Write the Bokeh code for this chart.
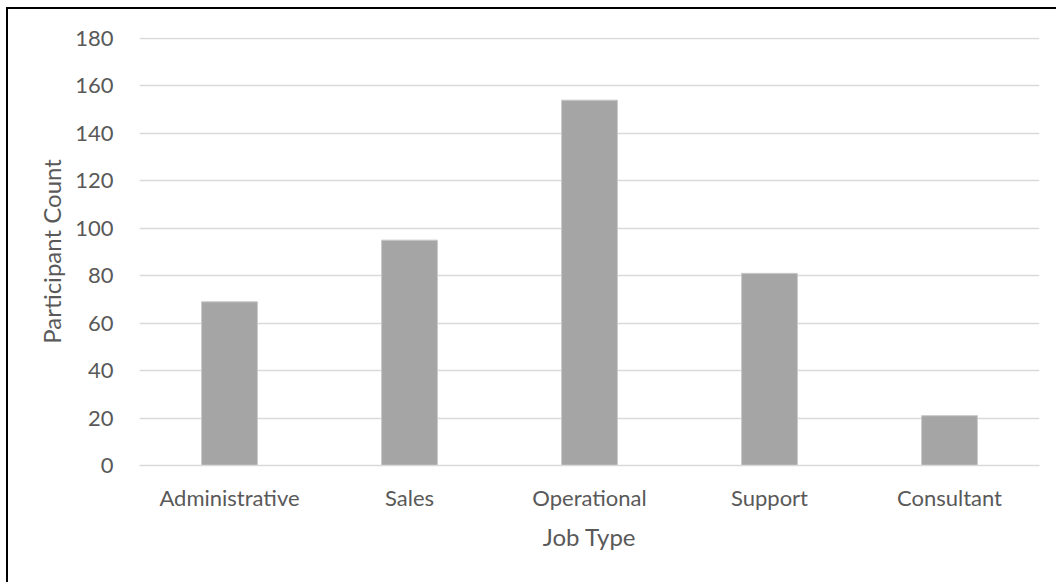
from bokeh.plotting import figure
from bokeh.models import ColumnDataSource, Range1d, FixedTicker
from bokeh.embed import file_html
from bokeh.resources import INLINE

job_types = ["Administrative", "Sales", "Operational", "Support", "Consultant"]
participant_counts = [69, 95, 154, 81, 21]
y_ticks = [0, 20, 40, 60, 80, 100, 120, 140, 160, 180]

FONT = "Lato"
TEXT_COLOR = "#595959"

source = ColumnDataSource(data=dict(job=job_types, count=participant_counts))

# frame is one pixel taller than the 0..180 span so the top gridline is visible
p = figure(
    x_range=job_types,
    y_range=Range1d(0, 180 * 428 / 427),
    width=1048, height=573,
    frame_width=900, frame_height=428,
    min_border_left=131, min_border_right=17,
    min_border_top=28, min_border_bottom=117,
    output_backend="svg", toolbar_location=None,
    background_fill_color="white", border_fill_color="white",
)
p.styles = {"margin-left": "6px", "margin-top": "7px",
            "border-left": "2px solid #000", "border-top": "2px solid #000"}
p.x_range.range_padding = 0
p.outline_line_color = None

p.vbar(x="job", top="count", width=0.31, source=source,
       fill_color="#a5a5a5", line_color="#c8c8c8", line_width=1)

p.yaxis.ticker = FixedTicker(ticks=y_ticks)
p.ygrid.grid_line_color = "#d9d9d9"
p.ygrid.grid_line_width = 1.5
p.xgrid.grid_line_color = None

for ax in (p.xaxis[0], p.yaxis[0]):
    ax.major_tick_line_color = None
    ax.minor_tick_line_color = None
    ax.major_label_text_font = FONT
    ax.major_label_text_font_size = "22px"
    ax.major_label_text_color = TEXT_COLOR
    ax.axis_label_text_font = FONT
    ax.axis_label_text_font_size = "24px"
    ax.axis_label_text_color = TEXT_COLOR
    ax.axis_label_text_font_style = "normal"

p.yaxis.axis_line_color = None
p.xaxis.axis_line_color = "#d9d9d9"
p.xaxis.axis_line_width = 1.5
p.xaxis.axis_label = "Job Type"
p.yaxis.axis_label = "Participant Count"
p.yaxis.major_label_standoff = 20
p.xaxis.major_label_standoff = 12
p.xaxis.axis_label_standoff = 8
p.yaxis.axis_label_standoff = 6

open("out.html", "w").write(file_html(p, INLINE))
